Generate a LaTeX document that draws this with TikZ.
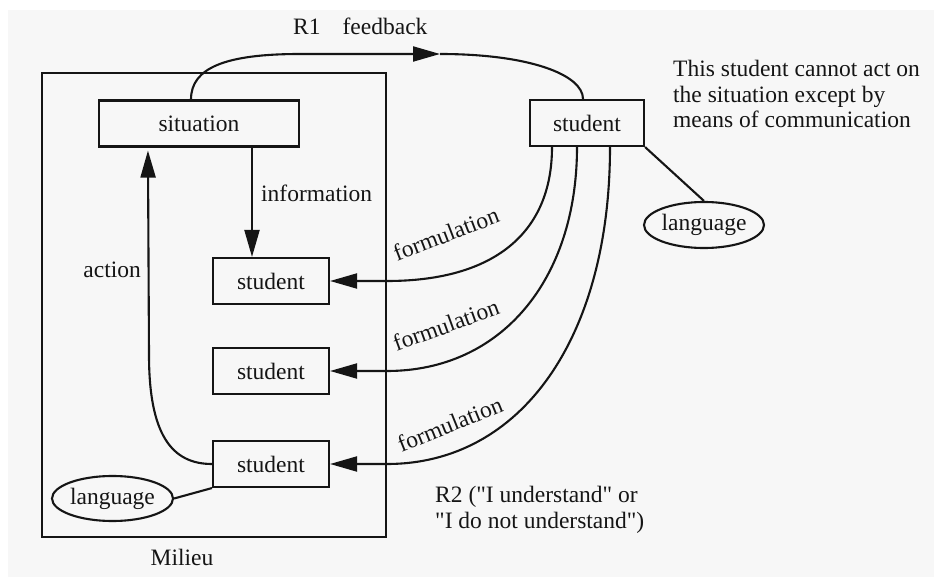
\documentclass[tikz,border=0pt]{standalone}
\usepackage{fontspec}
\setmainfont{Liberation Serif}[Ligatures=TeXOff]
\usetikzlibrary{arrows.meta,shapes.geometric}
\definecolor{paper}{HTML}{F7F7F7}
\definecolor{ink}{HTML}{151515}
\begin{document}
\begin{tikzpicture}[x=1pt,y=-1pt,
  every node/.style={font=\fontsize{23.5}{25.5}\selectfont, text=ink},
  box/.style={draw=ink, line width=2.1pt, rectangle, inner sep=0pt, minimum height=46pt},
  bubble/.style={draw=ink, line width=2.1pt, ellipse, inner sep=0pt},
  wire/.style={draw=ink, line width=2.1pt},
  flow/.style={wire, -{Triangle[length=27pt,width=15pt]}},
  tag/.style={inner sep=0pt}
]
% page and paper
\fill[white] (0,0) rectangle (934,577);
\useasboundingbox (0,0) rectangle (934,577);
\fill[paper] (8,10) rectangle (934,577);

% the milieu frame
\node[draw=ink, line width=2.1pt, minimum width=344pt, minimum height=464pt, inner sep=0pt] (milieu) at (214,305) {};
\node[tag] (mil) at (182,557) {Milieu};

% boxes and bubbles
\node[box, minimum width=200pt] (sit) at (199,123.5) {situation};
\node[box, minimum width=116pt] (s1) at (271,281) {student};
\node[box, minimum width=116pt] (s2) at (271,371) {student};
\node[box, minimum width=116pt] (s3) at (271,464) {student};
\node[box, minimum width=114pt] (rs) at (587,123) {student};
\node[bubble, minimum width=121pt, minimum height=45pt] (langL) at (112.5,498.5) {language};
\node[bubble, minimum width=120pt, minimum height=46pt] (langR) at (704,225) {language};

% text labels
\node[tag, anchor=west] (info) at (261,193) {information};
\node[tag, anchor=east] (act) at (141,270) {action};
\node[tag, anchor=base west] (r1) at (293,35) {R1\hspace{22pt}feedback};
\node[tag, anchor=base west, align=left] (note) at (673,128) {This student cannot act on\\the situation except by\\means of communication};
\node[tag, anchor=base west, align=left] (r2) at (435,528) {R2 ("I understand" or\\"I do not understand")};
\node[tag, rotate=21] (f1) at (446,234) {formulation};
\node[tag, rotate=20] (f2) at (446,325) {formulation};
\node[tag, rotate=22] (f3) at (450,424) {formulation};

% feedback loop R1
\coordinate (fbmid) at (440,54);
\draw[flow] ([xshift=-8pt]sit.north) .. controls (191,68) and (225,54) .. (300,54) -- (fbmid);
\draw[wire] (fbmid) .. controls (530,54) and (583,75) .. ([xshift=-4pt]rs.north);

% information and action
\draw[flow] ([xshift=53pt]sit.south) -- ([xshift=-19pt]s1.north);
\draw[flow] (s3.west) .. controls (172,464) and (149,435) .. (149,355) -- ([xshift=50pt,yshift=-3pt]sit.south west);

% formulations
\draw[flow] ([xshift=-35pt]rs.south) .. controls (552,233) and (494,281) .. (387,281) -- (s1.east);
\draw[flow] ([xshift=-10pt]rs.south) .. controls (577,280) and (501,371) .. (387,371) -- (s2.east);
\draw[flow] ([xshift=23pt]rs.south) .. controls (610,338) and (521,464) .. (387,464) -- (s3.east);

% language links
\draw[wire] (langL.east) -- (s3.south west);
\draw[wire] (rs.south east) -- (langR.north);
\end{tikzpicture}
\end{document}
